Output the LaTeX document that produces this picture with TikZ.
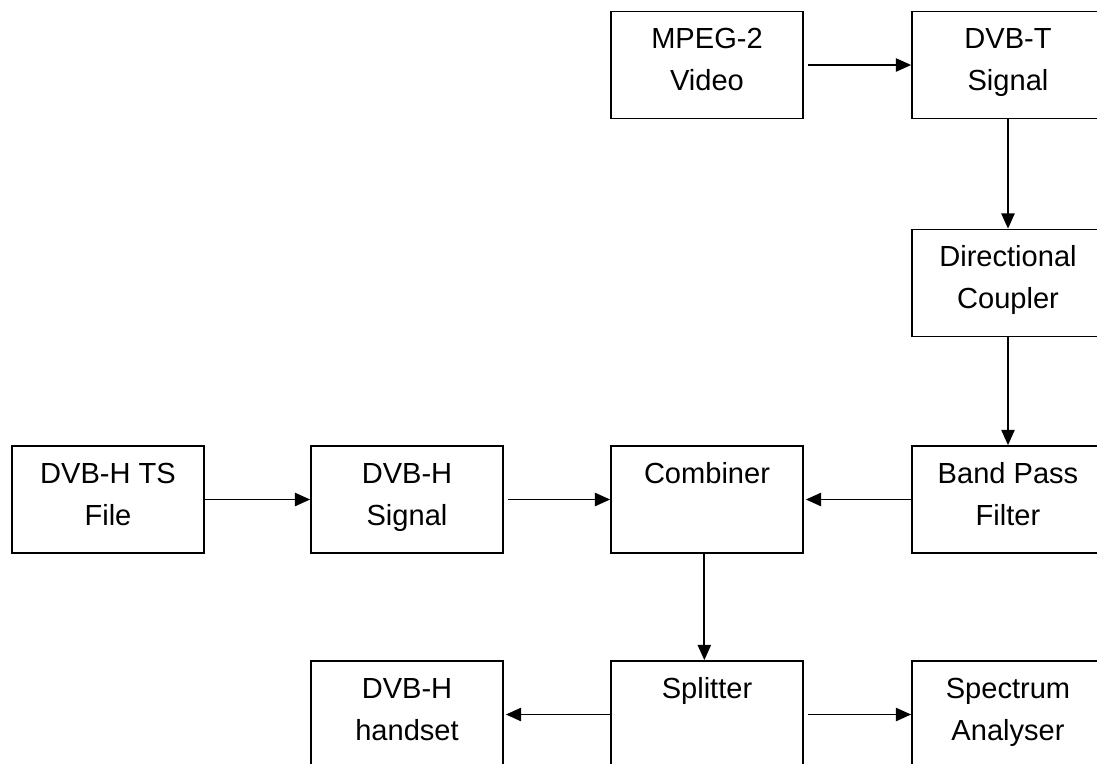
\documentclass[tikz,border=0pt]{standalone}
\usepackage{fontspec}
\setmainfont{Liberation Sans}
\usetikzlibrary{arrows.meta}
\tikzset{
  boxbase/.style={draw=black, line width=1.3pt, rectangle, inner sep=0pt,
    minimum width=144pt, align=center,
    font=\fontsize{21.8pt}{31.5pt}\selectfont},
  box/.style={boxbase, text height=59.25pt, text depth=21pt},
  boxone/.style={boxbase, text height=27.75pt, text depth=52.5pt},
  arr/.style={line width=1.3pt, -{Triangle[length=11.5pt,width=10pt]}}
}
\begin{document}
\begin{tikzpicture}[x=0.75pt,y=-0.75pt]
\useasboundingbox (0,0) rectangle (1097,764);
\clip (0,0) rectangle (1097,764);
\fill[white] (0,0) rectangle (1097,764);
\node[box] (mpeg)  at (707,65)    {MPEG-2\\Video};
\node[box] (dvbt)  at (1008,65)   {DVB-T\\Signal};
\node[box] (dc)    at (1008,283)  {Directional\\Coupler};
\node[box] (bpf)   at (1008,499.5){Band Pass\\Filter};
\node[boxone] (comb)  at (707,499.5) {Combiner};
\node[box] (dvbhs) at (407,499.5) {DVB-H\\Signal};
\node[box] (ts)    at (108,499.5) {DVB-H TS\\File};
\node[boxone] (split) at (707,714.5) {Splitter};
\node[box] (hand)  at (407,714.5) {DVB-H\\handset};
\node[box] (spec)  at (1008,714.5){Spectrum\\Analyser};
\draw[arr] ([xshift=3pt]mpeg.east) -- (dvbt.west);
\draw[arr] (dvbt) -- (dc);
\draw[arr] (dc) -- (bpf);
\draw[arr] (bpf.west) -- ([xshift=1.5pt]comb.east);
\draw[arr] (ts) -- (dvbhs);
\draw[arr] ([xshift=3pt]dvbhs.east) -- (comb.west);
\draw[arr] ([xshift=-2pt]comb.south) -- ([xshift=-2pt]split.north);
\draw[arr] (split.west) -- ([xshift=1.5pt]hand.east);
\draw[arr] ([xshift=3pt]split.east) -- (spec.west);
\end{tikzpicture}
\end{document}
